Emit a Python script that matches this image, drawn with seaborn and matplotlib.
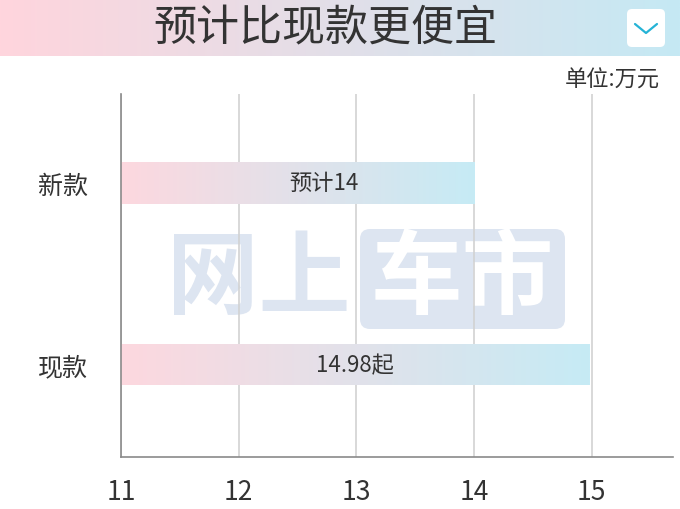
import numpy as np
import pandas as pd
import matplotlib
matplotlib.use("Agg")
import matplotlib.pyplot as plt
from matplotlib.patches import FancyBboxPatch
from matplotlib.colors import to_rgb
import seaborn as sns

# === data ===
categories = ["新款", "现款"]
prices = [14.0, 14.98]
bar_labels = ["预计14", "14.98起"]
x_ticks = [11, 12, 13, 14, 15]
title = "预计比现款更便宜"
unit = "单位:万元"
watermark = ["网上", "车市"]

PINK = "#fdd8df"
BLUE = "#c6ebf5"

sns.set_theme(style="white")
plt.rcParams["font.family"] = ["Noto Sans CJK SC", "DejaVu Sans"]


def gradient(c1, c2, n=256):
    a, b = np.array(to_rgb(c1)), np.array(to_rgb(c2))
    t = np.linspace(0, 1, n)[:, None]
    return (a + (b - a) * t)[None, :, :]


fig = plt.figure(figsize=(6.8, 5.1), dpi=100)

# --- decorative layer in pixel coords ---
deco = fig.add_axes([0, 0, 1, 1], zorder=0)
deco.set_xlim(0, 680)
deco.set_ylim(510, 0)
deco.axis("off")

deco.imshow(gradient("#ffd5dd", "#c5e9f4"), extent=[0, 680, 57, 0], aspect="auto")
deco.text(325, 29, title, ha="center", va="center", fontsize=31, fontweight="light",
          color="#333333")
deco.add_patch(FancyBboxPatch((627, 10), 38, 38, boxstyle="round,pad=0,rounding_size=5",
                              fc="white", ec="none"))
deco.plot([635, 646, 657], [25, 34, 25], color="#25b3d6", lw=1.6, solid_capstyle="round")
deco.text(660, 80, unit, ha="right", va="center", fontsize=16, fontweight="light",
          color="#333333")

# watermark
wm_color = "#dde5f1"
deco.text(259, 280, watermark[0], ha="center", va="center", fontsize=66,
          fontweight="heavy", color=wm_color)
deco.add_patch(FancyBboxPatch((360, 230), 205, 100, boxstyle="round,pad=0,rounding_size=10",
                              fc=wm_color, ec="none"))
deco.text(462, 280, watermark[1], ha="center", va="center", fontsize=66,
          fontweight="heavy", color="white")

# --- main chart ---
ax = fig.add_axes([121 / 680, 52 / 510, 552 / 680, 363 / 510], zorder=1)
ax.patch.set_alpha(0)

df = pd.DataFrame({"category": categories, "price": prices})
sns.barplot(data=df, x="price", y="category", orient="h", width=0.23, ax=ax, color=PINK)

xmin, xmax = 11, 15.69
ax.set_xlim(xmin, xmax)
ax.set_ylim(1.51, -0.49)

for p in ax.patches:
    x0, y0, w, h = p.get_x(), p.get_y(), p.get_width(), p.get_height()
    left = max(x0, xmin)
    p.set_facecolor("none")
    p.set_edgecolor("none")
    im = ax.imshow(gradient(PINK, BLUE), extent=[left, x0 + w, y0 + h, y0],
                   aspect="auto", zorder=2)
    im.set_clip_path(p)

ax.set_xlim(xmin, xmax)
ax.set_ylim(1.51, -0.49)

ax.text(12.72, 0, bar_labels[0], ha="center", va="center", fontsize=16,
        fontweight="light", color="#333333", zorder=3)
ax.text(12.99, 1, bar_labels[1], ha="center", va="center", fontsize=16,
        fontweight="light", color="#333333", zorder=3)

ax.set_xticks(x_ticks)
ax.set_xticklabels([str(t) for t in x_ticks], fontweight="light")
for lbl in ax.get_yticklabels():
    lbl.set_fontweight("light")
ax.grid(axis="x", color="#d2d2d2", lw=1.2, zorder=0)
ax.grid(axis="y", visible=False)
ax.set_axisbelow(True)
ax.tick_params(axis="x", length=0, pad=15, labelsize=19, colors="#333333")
ax.tick_params(axis="y", length=0, pad=24, labelsize=18, colors="#333333")
ax.set_xlabel("")
ax.set_ylabel("")
for s in ["top", "right"]:
    ax.spines[s].set_visible(False)
for s in ["left", "bottom"]:
    ax.spines[s].set_color("#8a8a8a")
    ax.spines[s].set_linewidth(1.2)

fig.savefig("out.png", dpi=100)
